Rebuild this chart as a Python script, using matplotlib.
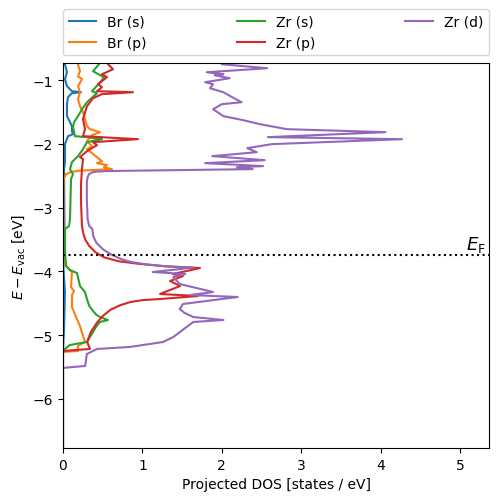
import matplotlib
matplotlib.use("Agg")
import matplotlib.pyplot as plt

# Energies (eV) and projected DOS (states/eV) for each orbital channel
br_s_E = [-0.70, -0.749, -0.875, -0.984, -1.094, -1.172, -1.188, -1.204, -1.266, -1.376, -1.564,
          -1.658, -1.721, -1.799, -1.846, -1.878, -2.003, -2.285, -2.395, -3.335, -3.962,
          -4.323, -4.903, -5.248, -7.0]
br_s_D = [0.025, 0.025, 0.050, 0.025, 0.050, 0.113, 0.227, 0.113, 0.063, 0.050, 0.050,
          0.088, 0.113, 0.113, 0.126, 0.063, 0.025, 0.025, 0.013, 0.019, 0.006,
          0.025, 0.013, 0.0, 0.0]

br_p_E = [-0.70, -0.749, -0.859, -0.937, -0.984, -1.094, -1.188, -1.298, -1.408, -1.502, -1.611,
          -1.721, -1.768, -1.815, -1.862, -1.956, -2.034, -2.082, -2.207, -2.270, -2.301,
          -2.332, -2.364, -2.395, -2.420, -2.440, -2.473, -2.552, -3.649, -3.853, -3.931,
          -4.009, -4.245, -4.307, -4.370, -4.558, -4.715, -4.856, -5.013, -5.107, -5.169,
          -5.248, -5.263, -7.0]
br_p_D = [0.19, 0.189, 0.214, 0.189, 0.239, 0.189, 0.214, 0.189, 0.214, 0.252, 0.277,
          0.302, 0.340, 0.466, 0.365, 0.302, 0.365, 0.302, 0.428, 0.491, 0.428,
          0.554, 0.516, 0.617, 0.200, 0.100, 0.040, 0.006, 0.006, 0.025, 0.050,
          0.113, 0.101, 0.139, 0.113, 0.113, 0.164, 0.214, 0.252, 0.277, 0.189,
          0.189, 0.0, 0.0]

zr_s_E = [-0.70, -0.749, -0.859, -0.953, -1.016, -1.172, -1.204, -1.345, -1.455, -1.564, -1.658,
          -1.737, -1.878, -1.893, -1.925, -1.972, -2.082, -2.191, -2.285, -2.395, -2.473,
          -2.552, -3.179, -3.288, -3.335, -3.696, -3.915, -3.978, -4.025, -4.229, -4.323,
          -4.433, -4.540, -4.621, -4.680, -4.715, -4.762, -4.793, -4.870, -4.950, -5.107,
          -5.154, -5.216, -5.263, -7.0]
zr_s_D = [0.46, 0.453, 0.378, 0.516, 0.479, 0.365, 0.428, 0.302, 0.239, 0.189, 0.139,
          0.126, 0.151, 0.302, 0.491, 0.302, 0.252, 0.189, 0.113, 0.088, 0.126,
          0.101, 0.088, 0.076, 0.025, 0.025, 0.038, 0.088, 0.176, 0.214, 0.277,
          0.302, 0.330, 0.378, 0.420, 0.466, 0.567, 0.466, 0.415, 0.378, 0.302,
          0.088, 0.025, 0.0, 0.0]

zr_p_E = [-0.70, -0.749, -0.828, -0.906, -0.953, -1.063, -1.110, -1.172, -1.188, -1.219, -1.282,
          -1.408, -1.611, -1.768, -1.878, -1.925, -1.972, -2.019, -2.113, -2.207, -2.238,
          -2.395, -2.630, -2.912, -3.288, -3.400, -3.500, -3.600, -3.700, -3.780, -3.840,
          -3.880, -3.920, -3.947, -4.041, -4.072, -4.150, -4.229, -4.354, -4.386, -4.433,
          -4.450, -4.480, -4.530, -4.600, -4.700, -4.800, -4.950, -5.107, -5.216, -5.248,
          -7.0]
zr_p_D = [0.55, 0.567, 0.630, 0.491, 0.554, 0.441, 0.491, 0.428, 0.882, 0.491, 0.378,
          0.302, 0.252, 0.277, 0.252, 0.945, 0.378, 0.428, 0.302, 0.214, 0.252,
          0.239, 0.227, 0.227, 0.239, 0.255, 0.280, 0.330, 0.410, 0.520, 0.700,
          0.950, 1.300, 1.725, 1.385, 1.511, 1.348, 1.474, 1.222, 1.700, 1.222,
          1.000, 0.850, 0.720, 0.600, 0.500, 0.430, 0.350, 0.305, 0.340, 0.0,
          0.0]

zr_d_E = [-0.70, -0.749, -0.812, -0.875, -0.906, -0.922, -0.969, -1.031, -1.063, -1.125, -1.188,
          -1.266, -1.345, -1.376, -1.455, -1.564, -1.627, -1.690, -1.768, -1.815, -1.893,
          -1.925, -2.003, -2.066, -2.129, -2.191, -2.254, -2.301, -2.348, -2.364, -2.395,
          -2.425, -2.435, -2.445, -2.470, -2.520, -2.600, -2.865, -3.179, -3.288, -3.335,
          -3.445, -3.550, -3.650, -3.730, -3.800, -3.850, -3.890, -3.920, -3.940, -4.009,
          -4.041, -4.088, -4.197, -4.323, -4.370, -4.401, -4.511, -4.589, -4.650, -4.715,
          -4.762, -4.793, -5.028, -5.107, -5.169, -5.185, -5.216, -5.295, -5.483, -5.514,
          -7.0]
zr_d_D = [1.98, 2.00, 2.57, 1.81, 2.02, 1.91, 2.10, 1.79, 1.89, 1.85, 2.02,
          2.13, 2.25, 2.00, 1.89, 2.02, 2.27, 2.48, 2.82, 4.06, 2.58,
          4.27, 2.63, 2.32, 2.44, 1.88, 2.54, 1.79, 2.52, 2.19, 2.39,
          0.55, 0.42, 0.37, 0.33, 0.31, 0.30, 0.30, 0.31, 0.33, 0.37,
          0.38, 0.42, 0.50, 0.60, 0.72, 0.85, 1.05, 1.30, 1.64, 1.13,
          1.54, 1.39, 1.47, 1.89, 1.60, 2.20, 1.51, 1.47, 1.53, 1.64,
          2.02, 1.64, 1.39, 1.26, 0.93, 0.84, 0.43, 0.30, 0.28, 0.0,
          0.0]

series_labels = ["Br (s)", "Br (p)", "Zr (s)", "Zr (p)", "Zr (d)"]
fermi_level = -3.74

fig = plt.figure(figsize=(4.98, 5.02), dpi=100)
ax = fig.add_axes([0.1265, 0.1056, 0.8555, 0.7669])

series = [(br_s_D, br_s_E), (br_p_D, br_p_E), (zr_s_D, zr_s_E), (zr_p_D, zr_p_E), (zr_d_D, zr_d_E)]
for (d, e), lab in zip(series, series_labels):
    ax.plot(d, e, label=lab, lw=1.5)

ax.axhline(fermi_level, color="black", ls=":", lw=1.5)
ax.text(5.32, fermi_level + 0.02, r"$E_\mathrm{F}$", ha="right", va="bottom", fontsize=13)

ax.set_xlim(0, 5.365)
ax.set_ylim(-6.77, -0.73)
ax.set_xlabel("Projected DOS [states / eV]")
ax.set_ylabel(r"$E - E_\mathrm{vac}$ [eV]")

ax.legend(bbox_to_anchor=(0, 1.02, 1, 0.102), loc="lower left", ncol=3,
          mode="expand", borderaxespad=0)

fig.savefig("out.png", dpi=100)
